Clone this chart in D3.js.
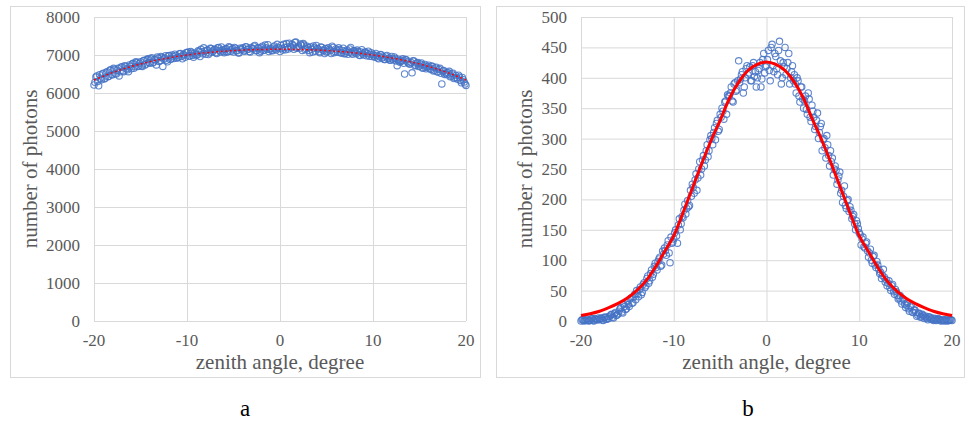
<!DOCTYPE html>
<html lang="en">

<head>
    <meta charset="UTF-8">
    <title>Photons vs zenith angle</title>
    <script src="https://d3js.org/d3.v7.min.js"></script>
    <style>
        body { margin: 0; background: #fff; }
    </style>
</head>

<body>
    <script>
        // sample angles of the two measurement runs, every 0.2 degree
        let anglesRun1 = d3.range(0, 201).map(i => Math.round((-20 + i * 0.2) * 10) / 10);
        let anglesRun2 = d3.range(0, 200).map(i => Math.round((-19.9 + i * 0.2) * 10) / 10);

        // panel a: measured photons
        let photonsA1 = [
            6210, 6420, 6300, 6480, 6350, 6520, 6390, 6560, 6440, 6610,
            6480, 6620, 6500, 6650, 6560, 6690, 6560, 6700, 6610, 6740,
            6640, 6780, 6690, 6800, 6710, 6820, 6700, 6860, 6760, 6900,
            6780, 6930, 6810, 6870, 6950, 6830, 6960, 6700, 6920, 6860,
            6980, 6880, 7000, 6910, 6990, 6930, 7030, 6960, 7010, 6940,
            7060, 6970, 7090, 6990, 7050, 7000, 7110, 6960, 7080, 7190,
            7020, 7130, 7050, 7170, 7100, 7150, 7040, 7200, 7080, 7130,
            7060, 7170, 7090, 7200, 7140, 7080, 7180, 7110, 7050, 7160,
            7190, 7100, 7210, 7150, 7080, 7170, 7230, 7110, 7190, 7060,
            7200, 7120, 7260, 7150, 7090, 7180, 7110, 7240, 7130, 7200,
            7090, 7170, 7280, 7140, 7210, 7310, 7190, 7250, 7330, 7180,
            7230, 7290, 7120, 7260, 7170, 7200, 7060, 7150, 7240, 7100,
            7170, 7090, 7210, 7130, 7040, 7080, 7190, 7120, 7230, 7060,
            7160, 7070, 7140, 7050, 7180, 7040, 7130, 7070, 7200, 7020,
            7110, 7030, 7090, 6990, 7140, 7000, 7080, 7030, 6970, 7060,
            7020, 6940, 6990, 6900, 7010, 6920, 6880, 6970, 6900, 6860,
            6960, 6870, 6910, 6720, 6840, 6830, 6900, 6500, 6870, 6790,
            6760, 6530, 6840, 6730, 6800, 6710, 6790, 6660, 6750, 6680,
            6730, 6620, 6700, 6600, 6680, 6550, 6650, 6240, 6590, 6510,
            6480, 6570, 6450, 6520, 6400, 6400, 6470, 6330, 6410, 6290,
            6200
        ];
        let photonsA2 = [
            6280, 6450, 6190, 6390, 6500, 6370, 6540, 6430, 6600, 6480,
            6650, 6510, 6600, 6450, 6680, 6580, 6720, 6640, 6560, 6700,
            6760, 6650, 6820, 6700, 6780, 6720, 6850, 6740, 6880, 6800,
            6900, 6790, 6880, 6740, 6920, 6850, 6940, 6890, 6980, 6820,
            6990, 6900, 6960, 7020, 6920, 6950, 7040, 6900, 7000, 7060,
            7080, 6980, 7050, 6940, 7020, 7000, 7090, 7150, 7030, 7100,
            7120, 7010, 7180, 7070, 7140, 7060, 7190, 7120, 7210, 7090,
            7150, 7080, 7220, 7100, 7170, 7200, 7120, 7060, 7180, 7140,
            7110, 7220, 7150, 7090, 7200, 7160, 7250, 7120, 7180, 7100,
            7230, 7130, 7190, 7270, 7150, 7120, 7210, 7160, 7280, 7180,
            7250, 7130, 7200, 7300, 7160, 7220, 7280, 7150, 7340, 7200,
            7180, 7260, 7300, 7140, 7230, 7120, 7210, 7080, 7190, 7250,
            7160, 7060, 7200, 7110, 7170, 7100, 7150, 7040, 7200, 7090,
            7130, 7190, 7060, 7120, 7030, 7090, 7020, 7160, 7050, 7110,
            7060, 7130, 7000, 7080, 7030, 7070, 6980, 7100, 7020, 6960,
            6980, 7040, 6920, 6960, 7000, 6950, 6880, 6990, 6920, 6870,
            6900, 6950, 6840, 6890, 6810, 6860, 6780, 6880, 6820, 6760,
            6800, 6850, 6720, 6780, 6700, 6760, 6660, 6720, 6640, 6700,
            6650, 6710, 6580, 6660, 6560, 6620, 6520, 6580, 6490, 6540,
            6530, 6430, 6500, 6380, 6460, 6360, 6420, 6270, 6350, 6240
        ];
        let trendAnglesA = [-20, -18, -16, -14, -12, -10, -8, -6, -4, -2, 0, 2, 4, 6, 8, 10, 12, 14, 16, 18, 20];
        let trendA = [6340, 6537, 6696, 6823, 6923, 7000, 7058, 7100, 7129, 7145, 7150, 7145, 7129, 7100, 7058, 7000, 6923, 6823, 6696, 6537, 6340];
        let ticksA = [0, 1000, 2000, 3000, 4000, 5000, 6000, 7000, 8000];

        // panel b: measured photons
        let photonsB1 = [
            0, 2, 1, 3, 0, 1, 4, 0, 3, 2,
            2, 5, 1, 6, 3, 4, 10, 6, 12, 9,
            12, 20, 15, 27, 19, 32, 24, 38, 30, 44,
            50, 40, 56, 47, 63, 58, 74, 66, 84, 77,
            95, 84, 102, 90, 115, 120, 108, 132, 96, 128,
            135, 150, 128, 168, 160, 170, 192, 185, 188, 215,
            225, 210, 242, 235, 262, 250, 272, 265, 290, 280,
            305, 290, 318, 325, 312, 340, 350, 332, 362, 372,
            370, 385, 360, 392, 380, 428, 398, 410, 385, 415,
            405, 418, 395, 425, 410, 400, 415, 385, 430, 408,
            420, 445, 395, 455, 410, 435, 405, 460, 390, 425,
            450, 415, 440, 400, 420, 405, 375, 395, 360, 385,
            350, 370, 340, 365, 328, 345, 315, 330, 300, 320,
            280, 300, 268, 290, 255, 262, 240, 255, 225, 238,
            210, 195, 222, 185, 200, 188, 168, 175, 150, 160,
            145, 125, 138, 120, 130, 105, 118, 95, 108, 88,
            92, 78, 70, 85, 64, 58, 66, 50, 60, 44,
            48, 36, 42, 28, 35, 22, 30, 16, 25, 14,
            18, 8, 13, 6, 11, 4, 8, 2, 6, 3,
            1, 4, 2, 3, 0, 2, 0, 3, 1, 2,
            1
        ];
        let photonsB2 = [
            2, 0, 1, 3, 1, 3, 1, 4, 2, 5,
            4, 2, 6, 3, 7, 8, 11, 5, 14, 10,
            16, 22, 13, 24, 20, 27, 36, 29, 40, 35,
            45, 52, 43, 60, 55, 70, 62, 78, 72, 90,
            88, 98, 105, 92, 110, 116, 125, 112, 138, 130,
            145, 140, 158, 150, 172, 182, 176, 198, 190, 205,
            220, 232, 215, 250, 240, 265, 255, 280, 270, 298,
            300, 310, 298, 330, 315, 335, 345, 360, 340, 370,
            375, 362, 390, 378, 395, 392, 405, 375, 400, 420,
            408, 395, 420, 402, 385, 412, 425, 398, 440, 418,
            430, 412, 450, 420, 440, 415, 445, 428, 400, 418,
            405, 425, 390, 410, 395, 390, 400, 370, 385, 365,
            362, 348, 375, 335, 355, 335, 320, 342, 310, 325,
            298, 285, 305, 272, 280, 268, 250, 248, 232, 245,
            215, 205, 190, 198, 180, 182, 172, 160, 165, 152,
            142, 135, 122, 128, 115, 112, 100, 106, 92, 98,
            85, 80, 75, 72, 68, 62, 55, 58, 48, 52,
            42, 38, 33, 36, 28, 26, 20, 23, 15, 18,
            14, 10, 12, 7, 9, 6, 4, 7, 3, 5,
            3, 1, 4, 2, 1, 1, 2, 0, 1, 2
        ];
        let fitAnglesB = [-20, -19, -18, -17, -16, -15, -14, -13, -12, -11, -10, -9, -8, -7, -6, -5, -4, -3, -2, -1, 0,
            1, 2, 3, 4, 5, 6, 7, 8, 9, 10, 11, 12, 13, 14, 15, 16, 17, 18, 19, 20];
        let fitB = [9, 12, 16, 22, 29, 38, 50, 66, 88, 114, 140, 178, 218, 258, 296, 330, 366, 393, 412, 422, 426,
            422, 412, 393, 366, 330, 296, 258, 218, 178, 140, 114, 88, 66, 50, 38, 29, 22, 16, 12, 9];
        let ticksB = [0, 50, 100, 150, 200, 250, 300, 350, 400, 450, 500];

        let xTicks = [-20, -10, 0, 10, 20];

        let svg = d3.select("body").append("svg")
            .attr("width", 969)
            .attr("height", 423)
            .attr("font-family", "'Liberation Serif', 'Times New Roman', Tinos, 'DejaVu Serif', serif");

        drawPanel({
            frame: [10.5, 6.5, 470, 371],
            left: 94, right: 466, top: 17, bottom: 321,
            yMax: 8000, yTicks: ticksA,
            titleX: 37,
            runs: [[anglesRun1, photonsA1], [anglesRun2, photonsA2]],
            fitX: trendAnglesA, fitY: trendA,
            fitWidth: 1.5, fitDash: "2,2.5",
            caption: "a", captionX: 245
        });

        drawPanel({
            frame: [496.5, 6.5, 468, 371],
            left: 581, right: 952, top: 17, bottom: 321,
            yMax: 500, yTicks: ticksB,
            titleX: 532,
            runs: [[anglesRun1, photonsB1], [anglesRun2, photonsB2]],
            fitX: fitAnglesB, fitY: fitB,
            fitWidth: 3, fitDash: null,
            caption: "b", captionX: 748
        });

        function drawPanel(p) {
            let g = svg.append("g");

            g.append("rect")
                .attr("x", p.frame[0])
                .attr("y", p.frame[1])
                .attr("width", p.frame[2])
                .attr("height", p.frame[3])
                .attr("fill", "none")
                .attr("stroke", "#d9d9d9");

            let x = d3.scaleLinear().domain([-20, 20]).range([p.left, p.right]);
            let y = d3.scaleLinear().domain([0, p.yMax]).range([p.bottom, p.top]);

            // grid
            g.append("g")
                .attr("transform", "translate(" + p.left + ",0)")
                .call(d3.axisLeft(y).tickValues(p.yTicks).tickSize(-(p.right - p.left)).tickFormat(""))
                .call(a => a.select(".domain").remove())
                .selectAll("line")
                .attr("stroke", "#d9d9d9");

            g.append("g")
                .attr("transform", "translate(0," + p.bottom + ")")
                .call(d3.axisBottom(x).tickValues(xTicks).tickSize(-(p.bottom - p.top)).tickFormat(""))
                .call(a => a.select(".domain").remove())
                .selectAll("line")
                .attr("stroke", "#d9d9d9");

            // tick labels
            g.selectAll(".ylab")
                .data(p.yTicks)
                .enter().append("text")
                .attr("x", p.left - 14)
                .attr("y", d => y(d) + 6)
                .attr("text-anchor", "end")
                .attr("font-size", 17)
                .attr("fill", "#595959")
                .text(d => d);

            g.selectAll(".xlab")
                .data(xTicks)
                .enter().append("text")
                .attr("x", d => x(d))
                .attr("y", 346)
                .attr("text-anchor", "middle")
                .attr("font-size", 17)
                .attr("fill", "#595959")
                .text(d => d);

            // axis titles
            g.append("text")
                .attr("x", (p.left + p.right) / 2)
                .attr("y", 369)
                .attr("text-anchor", "middle")
                .attr("font-size", 21)
                .attr("fill", "#595959")
                .text("zenith angle, degree");

            g.append("text")
                .attr("transform", "translate(" + p.titleX + "," + (p.top + p.bottom) / 2 + ") rotate(-90)")
                .attr("text-anchor", "middle")
                .attr("font-size", 21)
                .attr("fill", "#595959")
                .text("number of photons");

            // measured points, both runs
            p.runs.forEach(run => {
                g.append("g").selectAll("circle")
                    .data(run[1])
                    .enter().append("circle")
                    .attr("cx", (d, i) => x(run[0][i]))
                    .attr("cy", d => y(d))
                    .attr("r", 3.2)
                    .attr("fill", "none")
                    .attr("stroke", "#4472c4")
                    .attr("stroke-width", 1.1)
                    .attr("stroke-opacity", 0.85);
            });

            // fitted curve
            let line = d3.line()
                .x(d => x(d[0]))
                .y(d => y(d[1]))
                .curve(d3.curveMonotoneX);

            g.append("path")
                .datum(p.fitX.map((a, i) => [a, p.fitY[i]]))
                .attr("d", line)
                .attr("fill", "none")
                .attr("stroke", "#ff0000")
                .attr("stroke-width", p.fitWidth)
                .attr("stroke-dasharray", p.fitDash);

            g.append("text")
                .attr("x", p.captionX)
                .attr("y", 416)
                .attr("text-anchor", "middle")
                .attr("font-size", 23)
                .attr("fill", "#000")
                .text(p.caption);
        }
    </script>
</body>

</html>
